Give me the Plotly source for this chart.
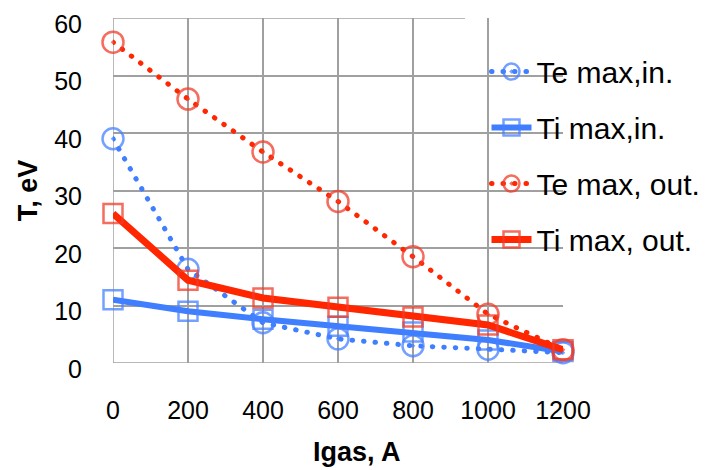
import plotly.graph_objects as go

igas = [0, 200, 400, 600, 800, 1000, 1200]
te_in = [39, 16.3, 7.0, 4.2, 3.0, 2.4, 1.8]
ti_in = [11.0, 9.0, 7.6, 6.4, 5.4, 4.0, 2.0]
te_out = [55.8, 45.9, 36.7, 28.1, 18.5, 8.5, 2.3]
ti_out = [26.0, 14.4, 11.3, 9.7, 8.0, 6.6, 2.3]
x_ticks = [0, 200, 400, 600, 800, 1000, 1200]
y_ticks = [0, 10, 20, 30, 40, 50, 60]

BLUE = "rgb(62,126,255)"
RED = "rgb(255,38,0)"
BLUE_M = "rgba(70,130,255,0.75)"
RED_M = "rgba(240,60,40,0.75)"
FONT = "Liberation Sans"
GRID = "#a0a0a0"

fig = go.Figure()
series = [
    ("Te max,in.", te_in, BLUE, BLUE_M, "0.5px,11px", 5, "circle-open-dot"),
    ("Ti max,in.", ti_in, BLUE, BLUE_M, "solid", 6, "square-open"),
    ("Te max, out.", te_out, RED, RED_M, "0.5px,11px", 5, "circle-open-dot"),
    ("Ti max, out.", ti_out, RED, RED_M, "solid", 7, "square-open"),
]
for i, (name, ys, lc, mc, dash, w, sym) in enumerate(series):
    fig.add_trace(go.Scatter(
        x=igas, y=ys, name=name, mode="lines+markers",
        legendgroup=f"g{i}",
        line=dict(color=lc, width=w, dash=dash),
        marker=dict(symbol=sym, size=21 if "circle" in sym else 19,
                    color=mc, line=dict(color=mc, width=2.5)),
        cliponaxis=False,
    ))

fig.update_layout(
    width=708, height=470,
    margin=dict(l=113, r=145, t=18, b=107, autoexpand=False),
    paper_bgcolor="white", plot_bgcolor="white",
    font=dict(family=FONT, size=25, color="black"),
    showlegend=True,
    legend=dict(
        x=0.83, xanchor="left", y=0.92, yanchor="top",
        bgcolor="rgba(0,0,0,0)", font=dict(size=30, family=FONT),
        tracegroupgap=14, itemwidth=40,
        borderwidth=0,
    ),
    xaxis=dict(
        range=[0, 1200], tickvals=x_ticks, ticktext=[str(v) for v in x_ticks],
        showgrid=True, gridcolor=GRID, gridwidth=1.5,
        zeroline=False, showline=False, ticks="", automargin=False,
        ticklabelstandoff=30, ticklabeloverflow="allow",
    ),
    yaxis=dict(
        range=[0, 60], tickvals=y_ticks, ticktext=[str(v) for v in y_ticks],
        showgrid=True, gridcolor=GRID, gridwidth=1.5,
        zeroline=False, showline=False, ticks="", automargin=False,
        ticklabelstandoff=30, ticklabelshift=6, ticklabeloverflow="allow",
        title=dict(text="<b>T, eV</b>", font=dict(size=27, family=FONT), standoff=8),
    ),
)
fig.add_annotation(text="<b>Igas, A</b>", xref="paper", yref="paper",
                   x=(357 - 113) / 450, y=(363 - 452) / 345,
                   xanchor="center", yanchor="middle", showarrow=False,
                   font=dict(size=27, family=FONT, color="black"))
# frame lines at the range edges (left, top, bottom)
fig.add_shape(type="line", xref="x", yref="paper", x0=0, x1=0, y0=0, y1=1,
              line=dict(color=GRID, width=1.5), layer="between")
fig.add_shape(type="line", xref="paper", yref="y", x0=0, x1=1, y0=60, y1=60,
              line=dict(color=GRID, width=1.5), layer="between")
fig.add_shape(type="line", xref="paper", yref="y", x0=0, x1=1, y0=0, y1=0,
              line=dict(color=GRID, width=1.5), layer="between")
# white block behind the legend, hiding gridlines there
fig.add_shape(type="rect", xref="paper", yref="paper",
              x0=(465 - 113) / 450, x1=1.05, y0=(363 - 263) / 345, y1=1.02,
              fillcolor="white", line=dict(width=0), layer="between")

post = """
function fixDots(){
  document.querySelectorAll('path.js-line').forEach(function(p){
    var d = p.style.strokeDasharray;
    if (d && d !== 'none' && d !== '') { p.style.strokeLinecap = 'round'; }
  });
  document.querySelectorAll('.legendlines path').forEach(function(p){
    var d = p.style.strokeDasharray;
    if (d && d !== 'none' && d !== '') { p.style.strokeLinecap = 'round'; }
  });
}
fixDots(); setTimeout(fixDots, 50);
"""
fig.write_html("out.html", post_script=post)
